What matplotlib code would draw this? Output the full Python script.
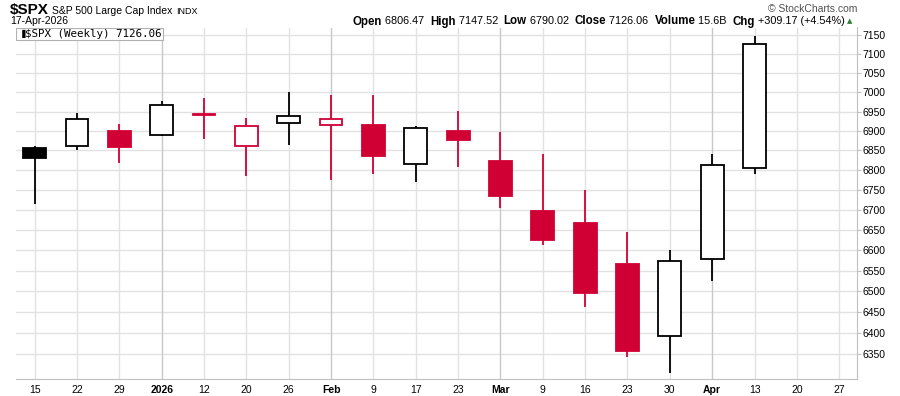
import matplotlib as mpl
mpl.use('Agg')
import numpy as np
import matplotlib.pyplot as plt
from matplotlib.patches import Rectangle
from matplotlib.ticker import FixedLocator, NullLocator, NullFormatter

plt.rcParams['font.family'] = ['Liberation Sans', 'DejaVu Sans']

# weekly candles, $SPX
weeks = ["15", "22", "29", "2026", "12", "20", "26", "Feb", "9", "17",
         "23", "Mar", "9", "16", "23", "30", "Apr", "13", "20", "27"]
month_starts = ["2026", "Feb", "Mar", "Apr"]
opens  = [6856, 6861, 6900, 6889, 6944, 6861, 6920, 6915, 6916, 6815,
          6900, 6822, 6696, 6668, 6567, 6392, 6578, 6806.47]
highs  = [6862, 6945, 6918, 6978, 6986, 6933, 7001, 6993, 6993, 6912,
          6952, 6898, 6841, 6750, 6645, 6601, 6841, 7147.52]
lows   = [6714, 6850, 6819, 6886, 6880, 6784, 6865, 6774, 6789, 6770,
          6809, 6704, 6614, 6463, 6342, 6305, 6524, 6790.02]
closes = [6830, 6930, 6858, 6966, 6940, 6913, 6938, 6932, 6836, 6908,
          6877, 6736, 6625, 6495, 6356, 6573, 6813, 7126.06]
yticks = list(range(6350, 7151, 50))

RED = '#d10034'
GRID = '#e2e2e2'
GRID_DARK = '#c8c8c8'

fig = plt.figure(figsize=(9, 3.96), dpi=100)
ax = fig.add_axes([16/900, 1-379/396, (857-16)/900, (379-27.5)/396])
ax.set_yscale('log')
ax.set_xlim(-0.44, 19.42)
ax.set_ylim(6291, 7171)

# grid
for yv in yticks:
    ax.axhline(yv, color=GRID, lw=1, zorder=0)
for i, lab in enumerate(weeks):
    ax.axvline(i, color=GRID_DARK if lab in month_starts else GRID, lw=1, zorder=0)

# candles
w = 0.54
for i in range(len(opens)):
    o, h, l, c = opens[i], highs[i], lows[i], closes[i]
    prev = closes[i-1] if i > 0 else o
    col = 'black' if (i == 0 or c >= prev) else RED
    filled = c < o
    ax.vlines(i, l, h, color=col, lw=1.3, zorder=2)
    lo, hi = min(o, c), max(o, c)
    ax.add_patch(Rectangle((i - w/2, lo), w, hi - lo,
                           facecolor=col if filled else 'white',
                           edgecolor=col, lw=1.3, zorder=3))

# axes styling
for s in ['top', 'left']:
    ax.spines[s].set_visible(False)
for s in ['bottom', 'right']:
    ax.spines[s].set_color('#c0c0c0')
ax.yaxis.tick_right()
ax.yaxis.set_major_locator(FixedLocator(yticks))
ax.yaxis.set_minor_locator(NullLocator())
ax.yaxis.set_minor_formatter(NullFormatter())
ax.set_yticklabels([str(v) for v in yticks])
ax.tick_params(axis='y', length=3, color='#c0c0c0', labelsize=7.5, pad=1)
ax.set_xticks(range(len(weeks)))
ax.set_xticklabels(weeks)
ax.tick_params(axis='x', length=0, labelsize=7.5, pad=4)
for t in ax.get_xticklabels():
    if t.get_text() in month_starts:
        t.set_fontweight('bold')

# legend box
ax.add_patch(Rectangle((0, 1 - 12.5/351.5), 147/841, 12.5/351.5, transform=ax.transAxes,
                       facecolor='white', edgecolor='#b0b0b0', lw=0.8, zorder=5))
ax.text(3/841, 1 - 6.5/351.5, '\u2590', transform=ax.transAxes, fontsize=6,
        va='center', ha='left', family='DejaVu Sans', zorder=6)
ax.text(9/841, 1 - 6.5/351.5, '$SPX (Weekly) 7126.06', transform=ax.transAxes,
        fontsize=7.8, va='center', ha='left', family='DejaVu Sans Mono', zorder=6)

# header left
t1 = fig.text(10/900, 1 - 14/396, '$SPX', fontsize=11, fontweight='bold', va='baseline')
fig.canvas.draw()
r = fig.canvas.get_renderer()
x = 10 + t1.get_window_extent(r).width + 3
t2 = fig.text(x/900, 1 - 14/396, 'S&P 500 Large Cap Index', fontsize=7.5, va='baseline')
x += t2.get_window_extent(r).width + 4
fig.text(x/900, 1 - 14/396, 'INDX', fontsize=6.5, va='baseline')
fig.text(10/900, 1 - 24/396, '17-Apr-2026', fontsize=7.5, va='baseline')

# header right
fig.text(857/900, 1 - 12/396, '\u00a9 StockCharts.com', fontsize=7.5, color='#505050',
         ha='right', va='baseline')
pieces = [('Open', True), (' 6806.47  ', False), ('High', True), (' 7147.52  ', False),
          ('Low', True), (' 6790.02  ', False), ('Close', True), (' 7126.06  ', False),
          ('Volume', True), (' 15.6B  ', False), ('Chg', True), (' +309.17 (+4.54%)', False)]
x = 845
for txt, bold in reversed(pieces):
    t = fig.text(x/900, 1 - 24.5/396, txt, fontsize=8.3 if bold else 7.8,
                 fontweight='bold' if bold else 'normal', ha='right', va='baseline')
    x -= t.get_window_extent(r).width
fig.text(850/900, 1 - 23.5/396, '\u25b2', fontsize=5, color='#2e7d32', ha='center',
         va='baseline', family='DejaVu Sans')

fig.savefig('out.png', dpi=100)
